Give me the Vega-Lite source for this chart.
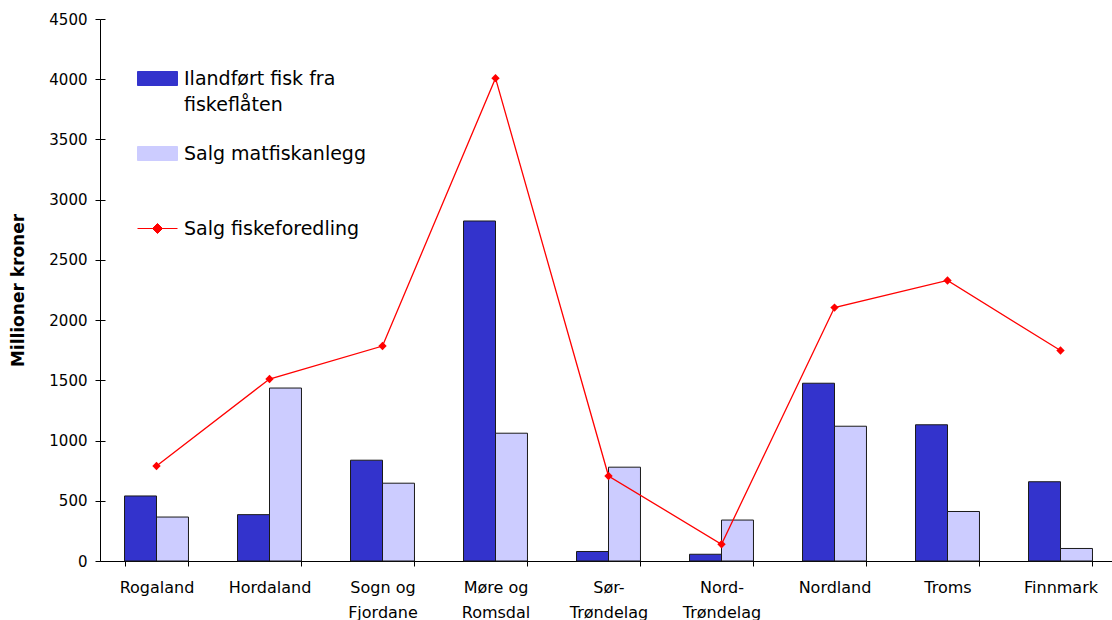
{
  "$schema": "https://vega.github.io/schema/vega-lite/v6.json",
  "width": 1017,
  "height": 542,
  "autosize": {"type": "none"},
  "padding": {"left": 100, "top": 19, "right": 0, "bottom": 59},
  "background": "white",
  "config": {
    "view": {"stroke": null},
    "font": "DejaVu Sans",
    "axis": {
      "domainColor": "black",
      "tickColor": "black",
      "tickSize": 5,
      "tickWidth": 1,
      "domainWidth": 1,
      "labelColor": "black",
      "labelFont": "DejaVu Sans",
      "grid": false
    },
    "axisX": {"labelFontSize": 16},
    "axisY": {"labelFontSize": 15}
  },
  "data": {
    "values": [
      {"region": "Rogaland", "series": "Ilandført fisk fra fiskeflåten", "value": 540},
      {"region": "Rogaland", "series": "Salg matfiskanlegg", "value": 365},
      {"region": "Rogaland", "series": "Salg fiskeforedling", "value": 789},
      {"region": "Hordaland", "series": "Ilandført fisk fra fiskeflåten", "value": 385},
      {"region": "Hordaland", "series": "Salg matfiskanlegg", "value": 1436},
      {"region": "Hordaland", "series": "Salg fiskeforedling", "value": 1511},
      {"region": "Sogn og Fjordane", "series": "Ilandført fisk fra fiskeflåten", "value": 837},
      {"region": "Sogn og Fjordane", "series": "Salg matfiskanlegg", "value": 646},
      {"region": "Sogn og Fjordane", "series": "Salg fiskeforedling", "value": 1785},
      {"region": "Møre og Romsdal", "series": "Ilandført fisk fra fiskeflåten", "value": 2823},
      {"region": "Møre og Romsdal", "series": "Salg matfiskanlegg", "value": 1061},
      {"region": "Møre og Romsdal", "series": "Salg fiskeforedling", "value": 4009},
      {"region": "Sør-Trøndelag", "series": "Ilandført fisk fra fiskeflåten", "value": 79},
      {"region": "Sør-Trøndelag", "series": "Salg matfiskanlegg", "value": 779},
      {"region": "Sør-Trøndelag", "series": "Salg fiskeforedling", "value": 706},
      {"region": "Nord-Trøndelag", "series": "Ilandført fisk fra fiskeflåten", "value": 56},
      {"region": "Nord-Trøndelag", "series": "Salg matfiskanlegg", "value": 340},
      {"region": "Nord-Trøndelag", "series": "Salg fiskeforedling", "value": 139},
      {"region": "Nordland", "series": "Ilandført fisk fra fiskeflåten", "value": 1476},
      {"region": "Nordland", "series": "Salg matfiskanlegg", "value": 1119},
      {"region": "Nordland", "series": "Salg fiskeforedling", "value": 2104},
      {"region": "Troms", "series": "Ilandført fisk fra fiskeflåten", "value": 1131},
      {"region": "Troms", "series": "Salg matfiskanlegg", "value": 411},
      {"region": "Troms", "series": "Salg fiskeforedling", "value": 2329},
      {"region": "Finnmark", "series": "Ilandført fisk fra fiskeflåten", "value": 658},
      {"region": "Finnmark", "series": "Salg matfiskanlegg", "value": 104},
      {"region": "Finnmark", "series": "Salg fiskeforedling", "value": 1748}
    ]
  },
  "encoding": {
    "x": {
      "field": "region",
      "type": "nominal",
      "sort": ["Rogaland", "Hordaland", "Sogn og Fjordane", "Møre og Romsdal", "Sør-Trøndelag", "Nord-Trøndelag", "Nordland", "Troms", "Finnmark"],
      "scale": {"paddingInner": 0.434, "paddingOuter": 0.217},
      "axis": {
        "title": null,
        "labelAngle": 0,
        "tickBand": "extent",
        "labelFontSize": 16,
        "labelPadding": 13,
        "labelBaseline": "top",
        "labelLineHeight": 25,
        "labelExpr": "datum.label == 'Sogn og Fjordane' ? ['Sogn og', 'Fjordane'] : datum.label == 'Møre og Romsdal' ? ['Møre og', 'Romsdal'] : datum.label == 'Sør-Trøndelag' ? ['Sør-', 'Trøndelag'] : datum.label == 'Nord-Trøndelag' ? ['Nord-', 'Trøndelag'] : datum.label"
      }
    },
    "y": {
      "field": "value",
      "type": "quantitative",
      "scale": {"domain": [0, 4500], "nice": false},
      "axis": {
        "title": "Millioner kroner",
        "values": [0, 500, 1000, 1500, 2000, 2500, 3000, 3500, 4000, 4500],
        "format": "d",
        "labelFontSize": 15,
        "labelPadding": 8,
        "titleFont": "DejaVu Sans",
        "titleFontSize": 17,
        "titleFontWeight": "bold",
        "titleColor": "black",
        "titlePadding": 21
      }
    },
    "color": {
      "field": "series",
      "type": "nominal",
      "scale": {
        "domain": ["Ilandført fisk fra fiskeflåten", "Salg matfiskanlegg", "Salg fiskeforedling"],
        "range": ["#3333cc", "#ccccff", "#ff0000"]
      },
      "legend": {
        "title": null,
        "orient": "none",
        "legendX": 37,
        "legendY": 39,
        "symbolSize": 1600,
        "symbolStrokeWidth": 1,
        "labelFont": "DejaVu Sans",
        "labelFontSize": 19,
        "labelColor": "black",
        "labelOffset": 6,
        "labelLimit": 400,
        "rowPadding": 18,
        "labelExpr": "datum.label == 'Ilandført fisk fra fiskeflåten' ? ['Ilandført fisk fra', 'fiskeflåten'] : [datum.label, '']",
        "encode": {
          "symbols": {
            "update": {
              "shape": {"signal": "datum.value == 'Salg fiskeforedling' ? 'M-1,0H1M0,-0.25L0.25,0L0,0.25L-0.25,0Z' : 'M-1,-0.35H1V0.35H-1Z'"},
              "stroke": {"signal": "datum.value == 'Salg fiskeforedling' ? '#ff0000' : '#1a1a1a'"},
              "fill": {"scale": "color", "field": "value"},
              "strokeWidth": {"value": 1},
              "opacity": {"value": 1}
            }
          },
          "labels": {
            "update": {
              "lineHeight": {"value": 26}
            }
          }
        }
      }
    }
  },
  "layer": [
    {
      "transform": [{"filter": "datum.series !== 'Salg fiskeforedling'"}],
      "mark": {"type": "bar", "stroke": "#1a1a1a", "strokeWidth": 1},
      "encoding": {
        "xOffset": {"field": "series", "sort": ["Ilandført fisk fra fiskeflåten", "Salg matfiskanlegg"]}
      }
    },
    {
      "transform": [{"filter": "datum.series === 'Salg fiskeforedling'"}],
      "mark": {
        "type": "line",
        "strokeWidth": 1.3,
        "point": {"shape": "diamond", "size": 70, "filled": true, "opacity": 1}
      },
      "encoding": {
        "x": {
          "field": "region",
          "type": "nominal",
          "sort": ["Rogaland", "Hordaland", "Sogn og Fjordane", "Møre og Romsdal", "Sør-Trøndelag", "Nord-Trøndelag", "Nordland", "Troms", "Finnmark"],
          "axis": {"orient": "bottom", "title": null, "labels": false, "domain": false, "tickBand": "extent", "tickSize": -5}
        },
        "y": {
          "field": "value",
          "type": "quantitative",
          "axis": {"orient": "left", "title": null, "labels": false, "domain": false, "tickSize": -5, "values": [0, 500, 1000, 1500, 2000, 2500, 3000, 3500, 4000, 4500]}
        }
      }
    }
  ],
  "resolve": {"axis": {"x": "independent", "y": "independent"}}
}
